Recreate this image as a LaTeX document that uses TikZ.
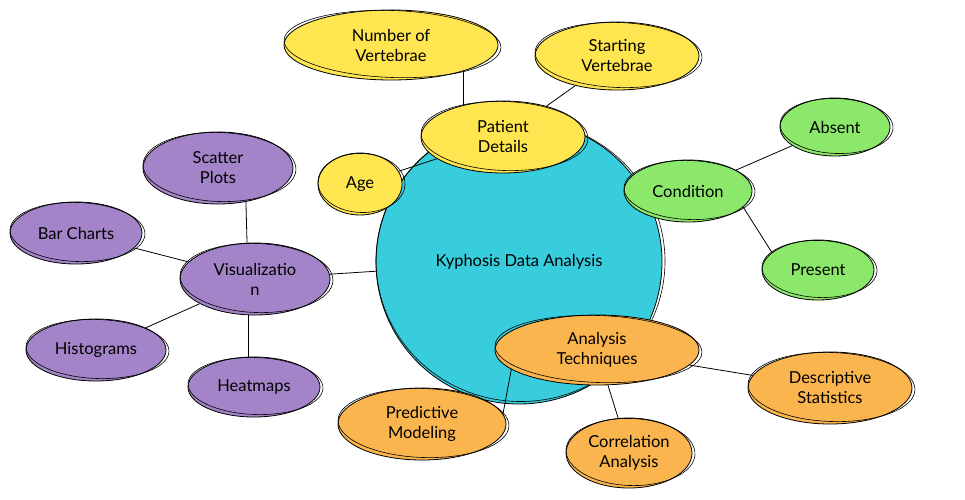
\documentclass[tikz,border=0pt]{standalone}
\usepackage{fontspec}
\setmainfont{Lato}
\usetikzlibrary{shapes.geometric,calc}
\pgfdeclarelayer{bg}
\pgfdeclarelayer{mid}
\pgfsetlayers{bg,mid,main}
\definecolor{cmain}{HTML}{38CDDC}
\definecolor{cyel}{HTML}{FFE650}
\definecolor{cgreen}{HTML}{8CE86A}
\definecolor{cpurp}{HTML}{A484C8}
\definecolor{corange}{HTML}{FBB54F}
\tikzset{
  bub/.style={ellipse, draw=black, line width=0.8pt, inner sep=0pt, align=center,
    font=\fontsize{16.5}{20}\selectfont},
  sketch/.style={draw=black, line width=0.6pt},
  link/.style={draw=black, line width=0.8pt},
}
\newcommand\bubble[7]{%
  \node[bub, fill=#6, minimum width={2*#4pt}, minimum height={2*#5pt}] (#1) at (#2,#3) {#7};
  \draw[sketch] (#1.center) ++(1.5,-1) ellipse [x radius={#4+1.5}, y radius={#5-1.5}, rotate=-2];
}
\begin{document}
\begin{tikzpicture}[x=1pt,y=-1pt]
\useasboundingbox (0,0) rectangle (965,499);
% patient details
\bubble{pat}{503}{137}{82}{36}{cyel}{Patient\\Details}
\bubble{num}{391}{45}{107}{35}{cyel}{Number of\\Vertebrae}
\bubble{start}{617}{56}{82}{34}{cyel}{Starting\\Vertebrae}
\bubble{age}{360}{184}{42}{31}{cyel}{Age}
% condition
\bubble{cond}{688}{191}{64}{31}{cgreen}{Condition}
\bubble{abs}{835}{127}{55}{29}{cgreen}{Absent}
\bubble{pres}{818}{270}{56}{30}{cgreen}{Present}
% visualization
\bubble{vis}{255}{279}{75}{36}{cpurp}{Visualizatio\\n}
\bubble{scat}{218}{168}{75}{36}{cpurp}{Scatter\\Plots}
\bubble{bar}{76}{233}{66}{31}{cpurp}{Bar Charts}
\bubble{hist}{96}{350}{70}{31}{cpurp}{Histograms}
\bubble{heat}{254}{387}{66}{30}{cpurp}{Heatmaps}
% analysis
\bubble{ana}{597}{350}{102}{35}{corange}{Analysis\\Techniques}
\bubble{pred}{422}{424}{84}{36}{corange}{Predictive\\Modeling}
\bubble{corr}{629}{453}{63}{35}{corange}{Correlation\\Analysis}
\bubble{desc}{830}{388}{82}{36}{corange}{Descriptive\\Statistics}
% central (behind the others)
\begin{pgfonlayer}{bg}
\bubble{main}{519}{262}{143}{142}{cmain}{Kyphosis Data Analysis}
\end{pgfonlayer}
\begin{pgfonlayer}{mid}
\draw[link] (main) -- (pat);
\draw[link] (main) -- (cond);
\draw[link] (main) -- (vis);
\draw[link] (main) -- (ana);
\draw[link] (pat) -- (age);
\draw[link] ($(num.center)+(72,0)$) -- ($(pat.center)+(-40,0)$);
\draw[link] (pat) -- (start);
\draw[link] (cond) -- (abs);
\draw[link] ($(cond.center)+(45,0)$) -- ($(pres.center)+(-35,0)$);
\draw[link] ($(vis.center)+(-7,0)$) -- ($(scat.center)+(27,0)$);
\draw[link] (vis) -- (bar);
\draw[link] (vis) -- (hist);
\draw[link] ($(vis.center)+(-7,0)$) -- ($(heat.center)+(-6,0)$);
\draw[link] ($(ana.center)+(-83,5)$) -- ($(pred.center)+(80,-5)$);
\draw[link] (ana) -- (corr);
\draw[link] (ana) -- (desc);
\end{pgfonlayer}
\end{tikzpicture}
\end{document}
